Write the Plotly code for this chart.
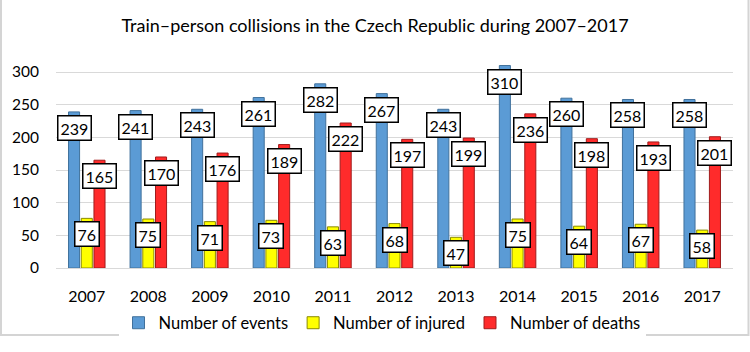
import plotly.graph_objects as go

years = ["2007", "2008", "2009", "2010", "2011", "2012", "2013", "2014", "2015", "2016", "2017"]
events = [239, 241, 243, 261, 282, 267, 243, 310, 260, 258, 258]
injured = [76, 75, 71, 73, 63, 68, 47, 75, 64, 67, 58]
deaths = [165, 170, 176, 189, 222, 197, 199, 236, 198, 193, 201]

series = [
    ("Number of events", events, "#5b9bd5", "#41719c"),
    ("Number of injured", injured, "#ffff00", "#8a8a00"),
    ("Number of deaths", deaths, "#ff2b2b", "#a01c1c"),
]

W, H = 750, 352
ml, mr, mt, mb = 56, 17, 59, 84
pw = W - ml - mr
ph = H - mt - mb
bargap = 0.38
bargroupgap = 0.13
FONT = "Lato"

fig = go.Figure()
for name, vals, col, lcol in series:
    fig.add_trace(go.Bar(
        name=name, x=years, y=vals,
        marker=dict(color=col, line=dict(color=lcol, width=1)),
    ))

cat_w = pw / len(years)
slot = cat_w * (1 - bargap) / len(series)
annotations = []
for i, (name, vals, col, lcol) in enumerate(series):
    shift = (i - (len(series) - 1) / 2) * slot
    for j, v in enumerate(vals):
        annotations.append(dict(
            x=j, y=v, xref="x", yref="y", text=str(v), showarrow=False,
            xshift=shift, yshift=-3, yanchor="top", xanchor="center",
            font=dict(family=FONT, size=16, color="#000000"),
            bgcolor="#ffffff", bordercolor="#000000", borderwidth=1.5, borderpad=2,
        ))

fig.update_layout(
    width=W, height=H,
    margin=dict(l=ml, r=mr, t=mt, b=mb, autoexpand=False),
    paper_bgcolor="#ffffff", plot_bgcolor="#ffffff",
    barmode="group", bargap=bargap, bargroupgap=bargroupgap,
    title=dict(text="Train–person collisions in the Czech Republic during 2007–2017",
               x=0.5, xref="container", xanchor="center",
               y=1 - 26 / H, yref="container", yanchor="middle",
               font=dict(family=FONT, size=18, color="#000000")),
    xaxis=dict(type="category", range=[-0.5, len(years) - 0.5], showgrid=False,
               showline=True, linecolor="#d9d9d9", linewidth=1, ticks="",
               ticklabelstandoff=14, automargin=False,
               tickfont=dict(family=FONT, size=16, color="#000000")),
    yaxis=dict(range=[0, 320], tickvals=[0, 50, 100, 150, 200, 250, 300],
               showgrid=True, gridcolor="#d9d9d9", gridwidth=1, zeroline=False,
               ticks="", ticklabelstandoff=16, automargin=False,
               tickfont=dict(family=FONT, size=15.5, color="#000000")),
    legend=dict(orientation="h", x=382 / W, xref="container", xanchor="center",
                y=1 - 323 / H, yref="container", yanchor="middle",
                font=dict(family=FONT, size=16.5, color="#000000"),
                itemwidth=30, tracegroupgap=0),
    annotations=annotations,
    shapes=[dict(type="rect", xref="paper", yref="paper",
                 x0=(1 - ml) / pw, x1=(748.5 - ml) / pw,
                 y0=(H - mt - 360) / ph, y1=(H - mt - 1) / ph,
                 line=dict(color="#d4d4d4", width=2), layer="below")],
    showlegend=True,
)

fig.write_html("out.html")
